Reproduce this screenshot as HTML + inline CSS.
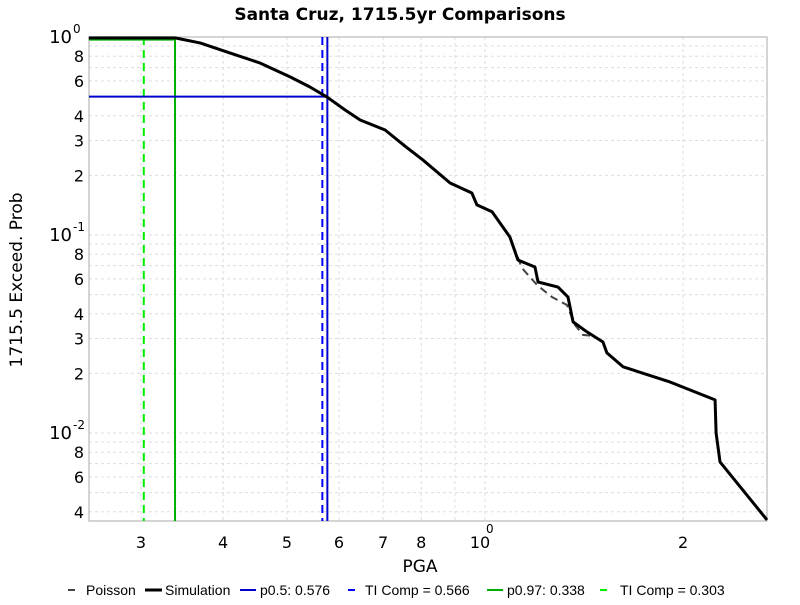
<!DOCTYPE html>
<html><head><meta charset="utf-8"><style>
body{margin:0;background:#fff;font-family:"Liberation Sans","DejaVu Sans",sans-serif}
text{font-family:"DejaVu Sans","Liberation Sans",sans-serif}
#legend text{font-family:"Liberation Sans","DejaVu Sans",sans-serif}
</style></head><body>
<svg id="chart" width="800" height="600">
<text x="400" y="20" text-anchor="middle" font-size="17" font-weight="bold">Santa Cruz, 1715.5yr Comparisons</text>
<g id="grid"></g>
<rect x="89" y="37" width="678" height="484" fill="none" stroke="#aaa"/>
<g id="marks"></g>
<g id="axes"></g>
<text x="420" y="572" text-anchor="middle" font-size="17">PGA</text>
<text transform="translate(22,280) rotate(-90)" text-anchor="middle" font-size="17">1715.5 Exceed. Prob</text>
<g id="legend" font-size="14"></g>
</svg>
<script>
const simX=[0.25,0.338,0.369,0.410,0.455,0.506,0.542,0.575,0.613,0.646,0.705,0.756,0.805,0.885,0.955,0.972,1.025,1.091,1.122,1.191,1.204,1.291,1.337,1.361,1.429,1.511,1.532,1.621,1.910,2.237,2.245,2.276,2.683];
const simY=[0.99,0.99,0.933,0.830,0.739,0.628,0.559,0.498,0.428,0.381,0.339,0.281,0.239,0.183,0.163,0.142,0.131,0.0977,0.0748,0.0689,0.0579,0.0546,0.0486,0.0364,0.0324,0.0288,0.0254,0.0216,0.0181,0.0147,0.0100,0.00714,0.00364];
const poiX=[0.25,0.338,0.369,0.410,0.455,0.506,0.542,0.575,0.613,0.646,0.705,0.756,0.805,0.885,0.955,0.972,1.025,1.091,1.138,1.200,1.264,1.332,1.370,1.409,1.45];
const poiY=[0.985,0.985,0.93,0.830,0.739,0.628,0.559,0.498,0.428,0.381,0.339,0.281,0.239,0.183,0.163,0.142,0.131,0.0977,0.0681,0.0559,0.0486,0.0443,0.0351,0.0313,0.031];
const vLines=[0.576,0.566,0.338,0.303];
const hLines=[0.5,0.97];
const xTickVals=[0.3,0.4,0.5,0.6,0.7,0.8,1,2];
const xTickLabels=["3","4","5","6","7","8","10","2"];
const yTickVals=[1,0.8,0.6,0.4,0.3,0.2,0.1,0.08,0.06,0.04,0.03,0.02,0.01,0.008,0.006,0.004];
const yTickLabels=["10","8","6","4","3","2","10","8","6","4","3","2","10","8","6","4"];
const NS="http://www.w3.org/2000/svg";
const L=89,R=767,T=37,B=521;
const X=v=>485+658*Math.log10(v);
const Y=v=>T-198*Math.log10(v);
function mk(tag,attrs,parent){const e=document.createElementNS(NS,tag);for(const k in attrs)e.setAttribute(k,attrs[k]);document.getElementById(parent).appendChild(e);return e;}
[0.3,0.4,0.5,0.6,0.7,0.8,0.9,1,2].forEach(v=>{const g=mk('line',{x1:X(v),x2:X(v),y1:T,y2:B,stroke:'#ddd','stroke-dasharray':'3,3'},'grid');

});
[1,0.9,0.8,0.7,0.6,0.5,0.4,0.3,0.2,0.1,0.09,0.08,0.07,0.06,0.05,0.04,0.03,0.02,0.01,0.009,0.008,0.007,0.006,0.005,0.004].forEach(v=>{const g=mk('line',{x1:L,x2:R,y1:Y(v),y2:Y(v),stroke:'#ddd','stroke-dasharray':'3,3'},'grid');

});
xTickVals.forEach((v,i)=>{const t=mk('text',{x:X(v)-(xTickLabels[i]==="10"?5:0),y:548,'text-anchor':'middle','font-size':'16'},'axes');t.textContent=xTickLabels[i];


if(xTickLabels[i]==="10"){const s=mk('text',{x:X(v)+1,y:533,'font-size':'12'},'axes');s.textContent="0";

}});
yTickVals.forEach((v,i)=>{const big=yTickLabels[i]==="10";const t=mk('text',{x:big?72:84,y:Y(v)+6,'text-anchor':'end','font-size':big?'18':'16'},'axes');t.textContent=yTickLabels[i];


if(big){const s=mk('text',{x:73,y:Y(v)-4,'font-size':'12'},'axes');s.textContent=v===1?"0":(v===0.1?"-1":"-2");

}});
const vs=[['#0000cc',''],['#0000ff','8,5'],['#00b000',''],['#00ee00','8,5']];
vLines.forEach((v,i)=>{const l=mk('line',{x1:X(v),x2:X(v),y1:T,y2:B,stroke:vs[i][0],'stroke-width':2,'stroke-dasharray':vs[i][1]},'marks');

});
const hs=['#0000cc','#00b000'];
hLines.forEach((v,i)=>{const l=mk('line',{x1:L,x2:X(vLines[i*2]),y1:Y(v),y2:Y(v),stroke:hs[i],'stroke-width':2},'marks');

});
const pp=mk('polyline',{points:poiX.map((v,i)=>X(v)+','+Y(poiY[i])).join(' '),fill:'none',stroke:'#444','stroke-width':2,'stroke-dasharray':'8,5'},'marks');


const sp=mk('polyline',{points:simX.map((v,i)=>X(v)+','+Y(simY[i])).join(' '),fill:'none',stroke:'#000','stroke-width':3,'stroke-linejoin':'round'},'marks');


const leg=[['Poisson','#444',68,75,2,86],['Simulation','#000',145,162,3,165],['p0.5: 0.576','#0000cc',240,256,2,260],['TI Comp = 0.566','#0000ff',348,355,2,365],['p0.97: 0.338','#00b000',487,503,2,507],['TI Comp = 0.303','#00ee00',600,607,2,620]];
leg.forEach(e=>{const l=mk('line',{x1:e[2],x2:e[3],y1:590,y2:590,stroke:e[1],'stroke-width':e[4]},'legend');


const t=mk('text',{x:e[5],y:595},'legend');t.textContent=e[0];

});
</script>
</body></html>
